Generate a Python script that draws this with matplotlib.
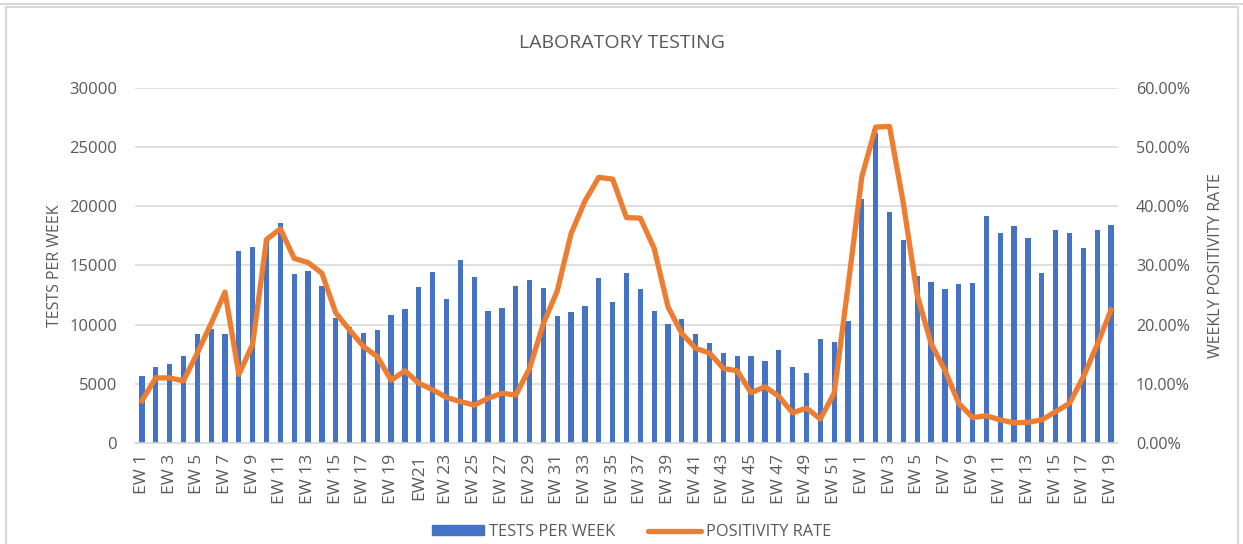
import numpy as np
import matplotlib.pyplot as plt
from matplotlib.patches import Rectangle
from matplotlib.lines import Line2D
from matplotlib.ticker import PercentFormatter

plt.rcParams['font.family'] = ['Open Sans', 'DejaVu Sans']

# epidemiological weeks: EW1-EW52, then EW1-EW19 of the following year
weeks = list(range(1, 53)) + list(range(1, 20))
labels = ['EW21' if (i == 20) else f'EW {w}' for i, w in enumerate(weeks)]

tests = [5700, 6450, 6650, 7380, 9210, 9630, 9210, 16230, 16540, 17200,
         18600, 14310, 14560, 13270, 10590, 9800, 9300, 9580, 10790, 11350,
         13160, 14480, 12200, 15490, 14030, 11130, 11380, 13300, 13780, 13070,
         10700, 11070, 11550, 13940, 11920, 14340, 12990, 11130, 10060, 10450,
         9210, 8420, 7630, 7330, 7350, 6930, 7860, 6420, 5890, 8790,
         8510, 10310,
         20650, 26200, 19520, 17160, 14140, 13600, 13040, 13470, 13520, 19210,
         17750, 18340, 17350, 14390, 18000, 17750, 16510, 18000, 18450]

positivity = [7.15, 11.0, 11.0, 10.5, 15.2, 20.2, 25.5, 11.6, 16.7, 34.4,
              36.2, 31.2, 30.5, 28.7, 22.0, 19.1, 16.3, 14.6, 10.6, 12.2,
              10.1, 9.0, 7.7, 7.0, 6.4, 7.55, 8.4, 8.1, 12.6, 20.2,
              25.7, 35.4, 40.9, 44.9, 44.6, 38.1, 38.0, 32.9, 23.0, 18.5,
              16.0, 15.2, 12.6, 12.2, 8.5, 9.5, 7.9, 5.1, 5.9, 4.05,
              8.4, 26.4,
              45.0, 53.4, 53.5, 40.5, 25.0, 16.8, 12.3, 6.7, 4.3, 4.6,
              3.9, 3.4, 3.5, 3.9, 5.3, 6.7, 11.2, 16.6, 22.5]

grey = '#595959'
blue = '#4472C4'
orange = '#ED7D31'
grid = '#D9D9D9'

fig = plt.figure(figsize=(12.43, 5.44), dpi=100)
ax = fig.add_axes([0.1086, 0.1857, 0.7908, 0.6525])
ax2 = ax.twinx()

x = np.arange(len(weeks))
ax.bar(x, tests, width=0.38, color=blue, zorder=2)
ax2.plot(x, positivity, color=orange, linewidth=3.8, solid_joinstyle='round', zorder=3)

ax.set_xlim(-0.5, len(weeks) - 0.5)
ax.set_ylim(0, 30000)
ax.set_yticks(np.arange(0, 30001, 5000))
ax2.set_ylim(0, 60)
ax2.set_yticks(np.arange(0, 61, 10))
ax2.yaxis.set_major_formatter(PercentFormatter(decimals=2))

ax.set_xticks(x[::2])
ax.set_xticklabels(labels[::2], rotation=90)

ax.yaxis.grid(True, color=grid, linewidth=1.2, zorder=0)
ax.set_axisbelow(True)
for a in (ax, ax2):
    for s in a.spines.values():
        s.set_visible(False)
    a.tick_params(length=0, colors=grey, labelsize=12)
ax.spines['bottom'].set_visible(True)
ax.spines['bottom'].set_color(grid)
ax.spines['bottom'].set_linewidth(1.2)
ax.tick_params(axis='y', pad=13)
ax2.tick_params(axis='y', pad=13, labelsize=11.6)
ax.tick_params(axis='x', pad=8, labelsize=12.5)

ax.set_ylabel('TESTS PER WEEK', color=grey, fontsize=11.5, labelpad=4)
ax2.set_ylabel('WEEKLY POSITIVITY RATE', color=grey, fontsize=11.5, labelpad=13)

fig.text(0.5005, 0.921, 'LABORATORY TESTING', ha='center', va='center',
         color=grey, fontsize=14)

handles = [Rectangle((0, 0), 1, 1, color=blue),
           Line2D([0], [0], color=orange, linewidth=3.8, solid_capstyle='round')]
fig.legend(handles, ['TESTS PER WEEK', 'POSITIVITY RATE'], loc='center',
           bbox_to_anchor=(0.508, 0.022), ncol=2, frameon=False, fontsize=11.8,
           labelcolor=grey, handlelength=3.2, handleheight=0.6,
           handletextpad=0.3, columnspacing=2.0)

# chart frame
fig.add_artist(Rectangle((6 / 1243, -0.01), 1232 / 1243, 1 - 7 / 544 + 0.01,
                         transform=fig.transFigure, fill=False,
                         edgecolor=grid, linewidth=1.5))
fig.add_artist(Line2D([0, 1], [1 - 4 / 544] * 2, transform=fig.transFigure,
                      color=grid, linewidth=1.5))

fig.savefig('out.png', dpi=100)
